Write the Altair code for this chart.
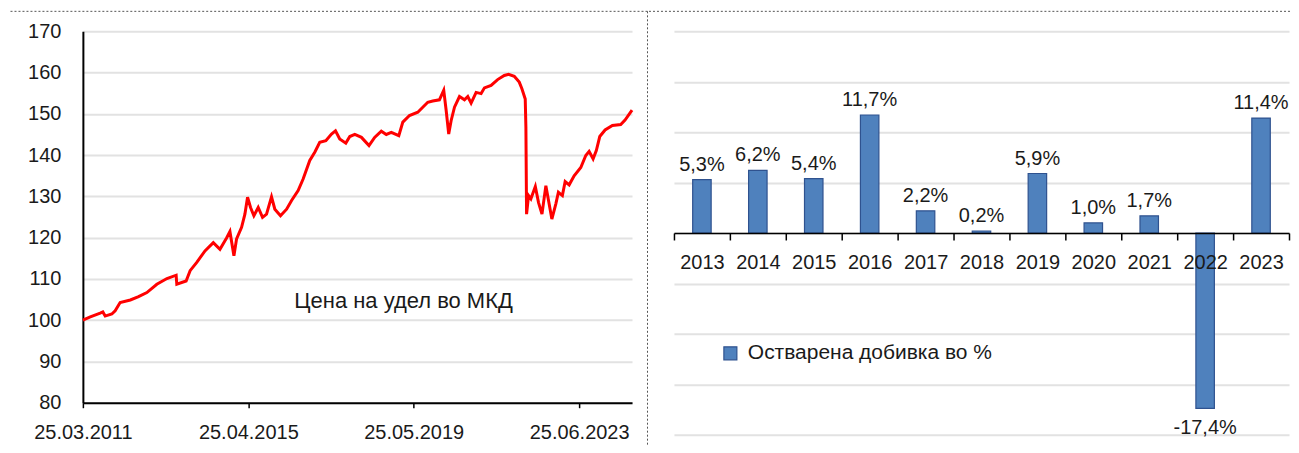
import altair as alt
import pandas as pd

# ---- left panel: unit price ----
dates = [
    "2011-03-25", "2011-05-31", "2011-08-28", "2011-09-21", "2011-10-12", "2011-12-11",
    "2012-01-10", "2012-02-24", "2012-05-26", "2012-08-08", "2012-10-22", "2013-01-20",
    "2013-04-21", "2013-07-13", "2013-07-19", "2013-10-11", "2013-11-16", "2014-01-15",
    "2014-03-30", "2014-06-13", "2014-08-12", "2014-10-12", "2014-11-10", "2014-12-16",
    "2015-01-09", "2015-02-23", "2015-03-25", "2015-04-18", "2015-05-15", "2015-06-14",
    "2015-07-23", "2015-08-31", "2015-10-06", "2015-11-20", "2015-12-20", "2016-02-09",
    "2016-04-04", "2016-05-19", "2016-07-17", "2016-08-31", "2016-10-30", "2016-12-14",
    "2017-01-28", "2017-03-24", "2017-05-14", "2017-06-19", "2017-07-27", "2017-09-20",
    "2017-10-26", "2017-12-10", "2018-02-08", "2018-04-17", "2018-06-07", "2018-08-06",
    "2018-09-20", "2018-11-04", "2019-01-11", "2019-02-16", "2019-04-17", "2019-07-01",
    "2019-09-29", "2019-11-13", "2020-01-12", "2020-02-20", "2020-03-13", "2020-04-05",
    "2020-04-27", "2020-05-27", "2020-07-11", "2020-08-25", "2020-09-24", "2020-10-24",
    "2020-12-08", "2021-01-22", "2021-02-21", "2021-04-22", "2021-06-20", "2021-08-19",
    "2021-09-27", "2021-11-17", "2022-01-01", "2022-01-25", "2022-02-24", "2022-03-02",
    "2022-03-08", "2022-03-26", "2022-04-16", "2022-05-26", "2022-06-24", "2022-07-25",
    "2022-08-29", "2022-09-22", "2022-10-22", "2022-11-27", "2022-12-20", "2023-01-25",
    "2023-02-19", "2023-03-27", "2023-05-11", "2023-07-10", "2023-08-24", "2023-09-23",
    "2023-10-29", "2023-11-27", "2023-12-28", "2024-02-14", "2024-04-20", "2024-07-04",
    "2024-08-12", "2024-10-14",
]
prices = [
    100.0, 100.8, 101.7, 102.0, 101.0, 101.5,
    102.3, 104.3, 104.9, 105.7, 106.7, 108.7,
    110.1, 110.9, 108.7, 109.5, 112.0, 114.0,
    116.8, 118.8, 117.2, 120.0, 121.5, 115.6,
    119.7, 122.5, 125.7, 129.8, 127.3, 125.3,
    127.3, 124.9, 125.7, 129.9, 126.9, 125.3,
    126.9, 129.0, 131.4, 134.2, 138.7, 140.7,
    143.1, 143.5, 145.1, 145.9, 143.9, 142.9,
    144.5, 145.0, 144.3, 142.3, 144.3, 145.8,
    145.0, 145.5, 144.7, 148.0, 149.6, 150.4,
    152.8, 153.1, 153.4, 155.7, 150.8, 145.1,
    148.4, 151.6, 154.2, 153.4, 154.2, 152.6,
    155.2, 154.9, 156.3, 156.9, 158.3, 159.3,
    159.6, 159.1, 157.7, 156.1, 153.6, 146.7,
    125.7, 130.2, 129.4, 132.4, 128.5, 125.7,
    132.6, 129.0, 124.5, 128.2, 131.0, 130.2,
    133.6, 132.8, 135.0, 137.0, 139.9, 140.9,
    139.1, 141.1, 144.5, 146.1, 147.2, 147.4,
    148.5, 150.9,
]
price_note = ["Цена на удел во МКД"]
price_note_date = ["2019-02-23"]
price_note_value = [104.7]

# ---- right panel: annual return ----
years = ["2013", "2014", "2015", "2016", "2017", "2018", "2019", "2020", "2021", "2022", "2023"]
returns = [5.3, 6.2, 5.4, 11.7, 2.2, 0.2, 5.9, 1.0, 1.7, -17.4, 11.4]
series_name = "Остварена добивка во %"

FONT = "Liberation Sans Narrow, Arial Narrow, Liberation Sans, Arial, sans-serif"
FS = 20
TXT = "#1a1a1a"
GRID = "#e2e2e2"
DOT = "#555555"

price_df = pd.DataFrame({"date": dates, "price": prices})
note_df = pd.DataFrame({"date": price_note_date, "price": price_note_value, "label": price_note})
ret_df = pd.DataFrame({
    "year": years,
    "ret": returns,
    "label": [f"{v:.1f}".replace(".", ",") + "%" for v in returns],
    "series": [series_name] * len(years),
})
one = pd.DataFrame({"k": [0]})

W1, H1 = 550, 372
W2, H2 = 616, 404

x_left = alt.X(
    "date:T",
    scale=alt.Scale(
        type="utc",
        domain=[alt.DateTime(year=2011, month=3, date=25, utc=True),
                alt.DateTime(year=2024, month=10, date=14, utc=True)],
    ),
    axis=alt.Axis(
        title=None,
        values=[alt.DateTime(year=2011, month=3, date=25, utc=True),
                alt.DateTime(year=2015, month=4, date=25, utc=True),
                alt.DateTime(year=2019, month=5, date=25, utc=True),
                alt.DateTime(year=2023, month=6, date=25, utc=True)],
        labelExpr="utcFormat(datum.value, '%d.%m.%Y')",
        grid=False, domainColor="#000", domainWidth=2,
        tickColor="#000", tickWidth=1.5, tickSize=5,
        labelFont=FONT, labelFontSize=FS, labelColor=TXT, labelPadding=15,
        labelFlush=False, labelOverlap=False,
    ),
)
y_left = alt.Y(
    "price:Q",
    scale=alt.Scale(domain=[80, 170], nice=False, zero=False),
    axis=alt.Axis(
        title=None, values=list(range(80, 171, 10)), format="d",
        grid=True, gridColor=GRID, gridWidth=2,
        domain=True, domainColor="#000", domainWidth=2,
        ticks=False, labelPadding=22,
        labelFont=FONT, labelFontSize=FS, labelColor=TXT,
    ),
)

line = alt.Chart(price_df).mark_line(color="#ff0000", strokeWidth=3).encode(x=x_left, y=y_left)
note = alt.Chart(note_df).mark_text(
    font=FONT, fontSize=22, color=TXT, align="center", baseline="middle"
).encode(x=x_left, y=y_left, text="label:N")
top_rule_l = alt.Chart(one).mark_rule(color=DOT, strokeDash=[2, 2], strokeWidth=1).encode(
    x=alt.value(-72.5), x2=alt.value(565.5), y=alt.value(-20))
vert_rule = alt.Chart(one).mark_rule(color=DOT, strokeDash=[2, 2], strokeWidth=1).encode(
    x=alt.value(565.5), y=alt.value(-20), y2=alt.value(415))

left = alt.layer(line, note, top_rule_l, vert_rule).properties(width=W1, height=H1)

x_right = alt.X(
    "year:O",
    scale=alt.Scale(paddingInner=0, paddingOuter=0),
    axis=alt.Axis(
        title=None, labelAngle=0, tickBand="extent", offset=-H2 / 2,
        domainColor="#000", domainWidth=1.5, tickColor="#000", tickWidth=1.5, tickSize=7,
        labelPadding=13, labelFont=FONT, labelFontSize=FS, labelColor=TXT,
        labelOverlap=False, grid=False, zindex=1,
    ),
)
y_right = alt.Y(
    "ret:Q",
    scale=alt.Scale(domain=[-20, 20], nice=False),
    axis=alt.Axis(
        title=None, labels=False, ticks=False, domain=False,
        values=list(range(-20, 21, 5)), grid=True, gridColor=GRID, gridWidth=2,
    ),
)

bars = alt.Chart(ret_df).mark_bar(size=18.5, stroke="#2F528F", strokeWidth=1.2).encode(
    x=x_right, y=y_right,
    color=alt.Color(
        "series:N", scale=alt.Scale(range=["#4F81BD"]),
        legend=alt.Legend(
            title=None, orient="none", legendX=638, legendY=312, padding=0,
            symbolType="square", symbolSize=169, symbolStrokeColor="#2F528F",
            symbolStrokeWidth=1.2, symbolOpacity=1,
            labelFont=FONT, labelFontSize=21, labelColor=TXT, labelOffset=7,
            labelLimit=0,
        ),
    ),
)
pos_txt = alt.Chart(ret_df).transform_filter("datum.ret >= 0").mark_text(
    font=FONT, fontSize=FS, color=TXT, baseline="alphabetic", dy=-9
).encode(x=x_right, y=y_right, text="label:N")
neg_txt = alt.Chart(ret_df).transform_filter("datum.ret < 0").mark_text(
    font=FONT, fontSize=FS, color=TXT, baseline="top", dy=10
).encode(x=x_right, y=y_right, text="label:N")
top_rule_r = alt.Chart(one).mark_rule(color=DOT, strokeDash=[2, 2], strokeWidth=1).encode(
    x=alt.value(-25), x2=alt.value(617), y=alt.value(-20))

right = alt.layer(bars, pos_txt, neg_txt, top_rule_r).properties(width=W2, height=H2)

chart = alt.hconcat(left, right, spacing=0).properties(
    padding={"left": 2, "top": 2, "right": 0, "bottom": 0}
).configure_view(stroke=None)

chart.save("out.html", embed_options={"renderer": "svg", "actions": False})
